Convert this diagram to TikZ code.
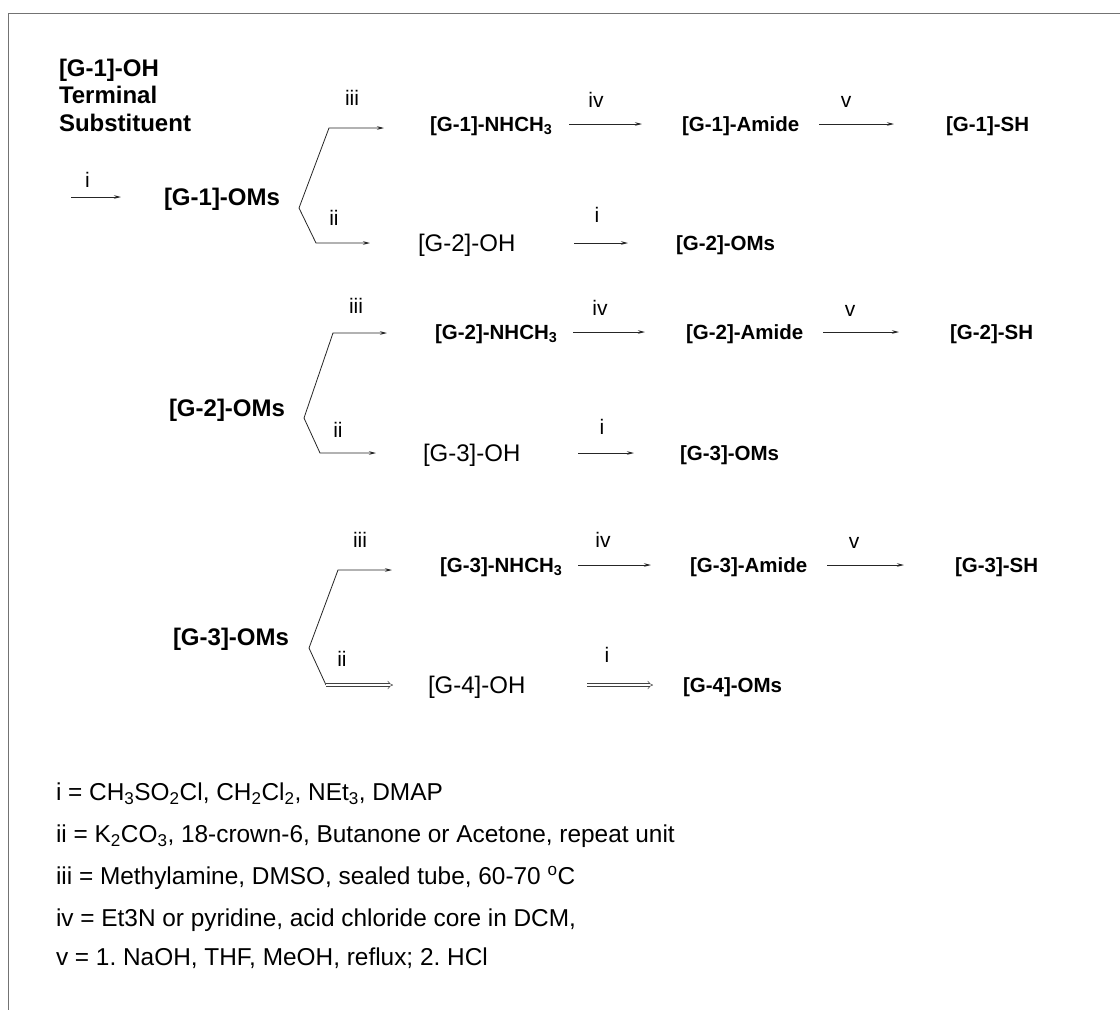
\documentclass[tikz,border=0pt]{standalone}
\usepackage{fontspec}
\setmainfont{Liberation Sans}
\usetikzlibrary{arrows.meta}
\begin{document}
\frenchspacing
\begin{tikzpicture}[x=1pt,y=-1pt,
  every node/.style={inner sep=0pt, outer sep=0pt},
  bigb/.style={anchor=west, font=\fontsize{24}{28}\selectfont\bfseries, text height=17.2pt, text depth=0pt},
  smb/.style={anchor=west, font=\fontsize{20.5}{24}\selectfont\bfseries, text height=14.7pt, text depth=0pt},
  reg/.style={anchor=west, font=\fontsize{24}{28}\selectfont, text height=17.2pt, text depth=0pt},
  lab/.style={anchor=center, font=\fontsize{21}{24}\selectfont},
  leg/.style={anchor=west, font=\fontsize{24.4}{28}\selectfont, text height=17.4pt, text depth=0pt},
  arr/.style={draw=black!85, line width=0.8pt, -{Stealth[length=7pt,width=3.5pt]}},
  dbl/.style={draw=black!75, double, double distance=2.4pt, line width=0.5pt, -{Implies}},
  frame/.style={draw=black!55, line width=1pt}]
\useasboundingbox[fill=white] (0,0) rectangle (1120,1010);
\draw[frame] (8,1010) -- (8,13) -- (1120,13);

% ---------- row 1 ----------
\node[bigb] (G1OH) at (59,68) {[G-1]-OH};
\node[bigb] (term) at (59,95) {Terminal};
\node[bigb] (subst) at (59,123) {Substituent};
\node[bigb] (O1) at (164,197) {[G-1]-OMs};
\coordinate (s0) at (O1.west -| 71,0);
\draw[arr] (s0) -- (O1.west -| 121,0);
\node[lab] (l0) at (87.5,180) {i};

\node[smb] (N1) at (430,124) {[G-1]-NHCH\textsubscript{3}};
\node[smb] (A1) at (682,124) {[G-1]-Amide};
\node[smb] (S1) at (946,124) {[G-1]-SH};
\node[reg] (H2) at (418,243) {[G-2]-OH};
\node[smb] (M2) at (676,243) {[G-2]-OMs};

\coordinate (v1) at (299,208);
\coordinate (t1) at (329,128);
\coordinate (b1) at (316,243);
\draw[arr] (v1) -- (t1) -- (t1 -| 384,0);
\draw[arr] (v1) -- (b1) -- (b1 -| 370,0);
\node[lab] (l1a) at (352,98) {iii};
\node[lab] (l1b) at (334,218) {ii};
\draw[arr] (N1.east -| 569,0) -- (A1.west -| 642,0);
\node[lab] (l1c) at (596,100) {iv};
\draw[arr] (A1.east -| 819,0) -- (S1.west -| 894,0);
\node[lab] (l1d) at (846,102) {v};
\draw[arr] (H2.east -| 574,0) -- (M2.west -| 628,0);
\node[lab] (l1e) at (597,215) {i};

% ---------- row 2 ----------
\node[bigb] (O2) at (169,408) {[G-2]-OMs};
\node[smb] (N2) at (435,332) {[G-2]-NHCH\textsubscript{3}};
\node[smb] (A2) at (686,332) {[G-2]-Amide};
\node[smb] (S2) at (950,332) {[G-2]-SH};
\node[reg] (H3) at (423,453) {[G-3]-OH};
\node[smb] (M3) at (680,453) {[G-3]-OMs};

\coordinate (v2) at (304,418);
\coordinate (t2) at (333,333);
\coordinate (b2) at (320,453);
\draw[arr] (v2) -- (t2) -- (t2 -| 387,0);
\draw[arr] (v2) -- (b2) -- (b2 -| 376,0);
\node[lab] (l2a) at (356,306) {iii};
\node[lab] (l2b) at (338,430) {ii};
\draw[arr] (N2.east -| 573,0) -- (A2.west -| 645,0);
\node[lab] (l2c) at (600,308) {iv};
\draw[arr] (A2.east -| 823,0) -- (S2.west -| 899,0);
\node[lab] (l2d) at (850,311) {v};
\draw[arr] (H3.east -| 578,0) -- (M3.west -| 634,0);
\node[lab] (l2e) at (602,427) {i};

% ---------- row 3 ----------
\node[bigb] (O3) at (173,637) {[G-3]-OMs};
\node[smb] (N3) at (440,565) {[G-3]-NHCH\textsubscript{3}};
\node[smb] (A3) at (690,565) {[G-3]-Amide};
\node[smb] (S3) at (955,565) {[G-3]-SH};
\node[reg] (H4) at (428,685) {[G-4]-OH};
\node[smb] (M4) at (683,685) {[G-4]-OMs};

\coordinate (v3) at (309,648);
\coordinate (t3) at (338,570);
\coordinate (b3) at (326,685);
\draw[arr] (v3) -- (t3) -- (t3 -| 392,0);
\draw[draw=black!85, line width=0.8pt] (v3) -- (b3);
\draw[dbl] (b3) -- (b3 -| 393,0);
\node[lab] (l3a) at (360,540) {iii};
\node[lab] (l3b) at (342,659) {ii};
\draw[arr] (N3.east -| 578,0) -- (A3.west -| 651,0);
\node[lab] (l3c) at (603,540) {iv};
\draw[arr] (A3.east -| 827,0) -- (S3.west -| 904,0);
\node[lab] (l3d) at (854,543) {v};
\draw[dbl] (H4.east -| 587,0) -- (M4.west -| 653,0);
\node[lab] (l3e) at (607,655) {i};

% ---------- legend ----------
\node[leg] (L1) at (56,792) {i = CH\textsubscript{3}SO\textsubscript{2}Cl, CH\textsubscript{2}Cl\textsubscript{2}, NEt\textsubscript{3}, DMAP};
\node[leg] (L2) at (56,834) {ii = K\textsubscript{2}CO\textsubscript{3}, 18-crown-6, Butanone or Acetone, repeat unit};
\node[leg] (L3) at (56,876) {iii = Methylamine, DMSO, sealed tube, 60-70 \textsuperscript{o}C};
\node[leg] (L4) at (56,918) {iv = Et3N or pyridine, acid chloride core in DCM,};
\node[leg] (L5) at (56,957) {v = 1. NaOH, THF, MeOH, reflux; 2. HCl};
\end{tikzpicture}
\end{document}
